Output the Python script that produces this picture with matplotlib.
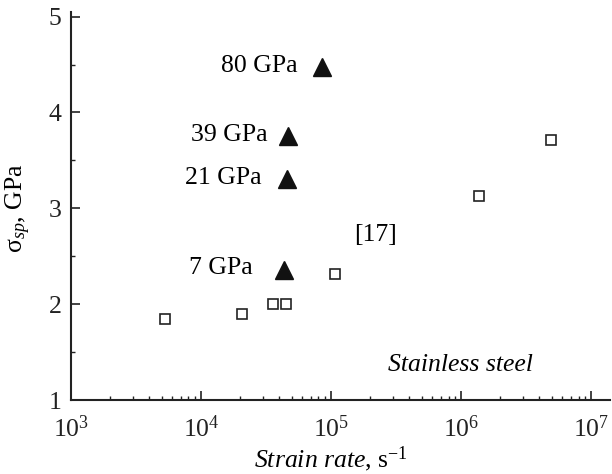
import matplotlib
matplotlib.use('Agg')
import matplotlib.pyplot as plt
from matplotlib.ticker import LogLocator, MultipleLocator, NullFormatter

plt.rcParams['font.family'] = ['Liberation Serif', 'DejaVu Serif']
plt.rcParams['mathtext.fontset'] = 'custom'
plt.rcParams['mathtext.rm'] = 'Liberation Serif'
plt.rcParams['mathtext.it'] = 'Liberation Serif:italic'
plt.rcParams['mathtext.bf'] = 'Liberation Serif:bold'

# data
ref_rate = [5.3e3, 2.08e4, 3.6e4, 4.48e4, 1.07e5, 1.376e6, 4.92e6]   # [17], open squares
ref_stress = [1.843, 1.895, 2.003, 2.003, 2.313, 3.131, 3.715]

shock_rate = [4.38e4, 4.56e4, 4.69e4, 8.47e4]                        # filled triangles
shock_stress = [2.358, 3.305, 3.75, 4.475]
shock_labels = ['7 GPa', '21 GPa', '39 GPa', '80 GPa']
label_dx = [-23, -18, -15, -17]   # label offsets in points

fig = plt.figure(figsize=(6.12, 4.74), dpi=100)
ax = fig.add_axes([0.116, 0.156, 0.881, 0.819])

ax.plot(ref_rate, ref_stress, 's', ms=7.8, mfc='white', mec='#222222', mew=1.2, ls='None')
ax.plot(shock_rate, shock_stress, '^', ms=12.5, color='#111111', ls='None')

for xr, ys, lab, dx in zip(shock_rate, shock_stress, shock_labels, label_dx):
    ax.annotate(lab, xy=(xr, ys), xytext=(dx, 1), textcoords='offset points',
                ha='right', va='center', fontsize=18.5)

ax.text(2.2e5, 2.72, '[17]', ha='center', va='center', fontsize=18.5)
ax.text(9.8e5, 1.37, 'Stainless steel', ha='center', va='center', fontsize=18.5,
        style='italic')

ax.set_xscale('log')
ax.set_xlim(1e3, 1.4e7)
ax.set_ylim(1, 5.05)
ax.xaxis.set_major_locator(LogLocator(base=10, numticks=10))
ax.xaxis.set_minor_locator(LogLocator(base=10, subs=range(2, 10), numticks=100))
ax.xaxis.set_minor_formatter(NullFormatter())
ax.yaxis.set_major_locator(MultipleLocator(1))
ax.yaxis.set_minor_locator(MultipleLocator(0.5))

for s in ['top', 'right']:
    ax.spines[s].set_visible(False)
for s in ['left', 'bottom']:
    ax.spines[s].set_linewidth(1.5)
    ax.spines[s].set_color('#222222')

ax.tick_params(which='major', direction='in', length=6.5, width=1.2, labelsize=18.5,
               colors='#222222', pad=7)
ax.tick_params(which='minor', direction='in', length=3.2, width=1.0, colors='#222222')
ax.tick_params(axis='x', which='major', pad=11)

ax.set_xlabel(r'$Strain\ rate$, s$^{-1}$', fontsize=18.5)
ax.set_ylabel(r'σ$_{sp}$, GPa', fontsize=18.5)
ax.xaxis.set_label_coords(0.482, -0.115)
ax.yaxis.set_label_coords(-0.07, 0.495)

fig.savefig('out.png', dpi=100)
